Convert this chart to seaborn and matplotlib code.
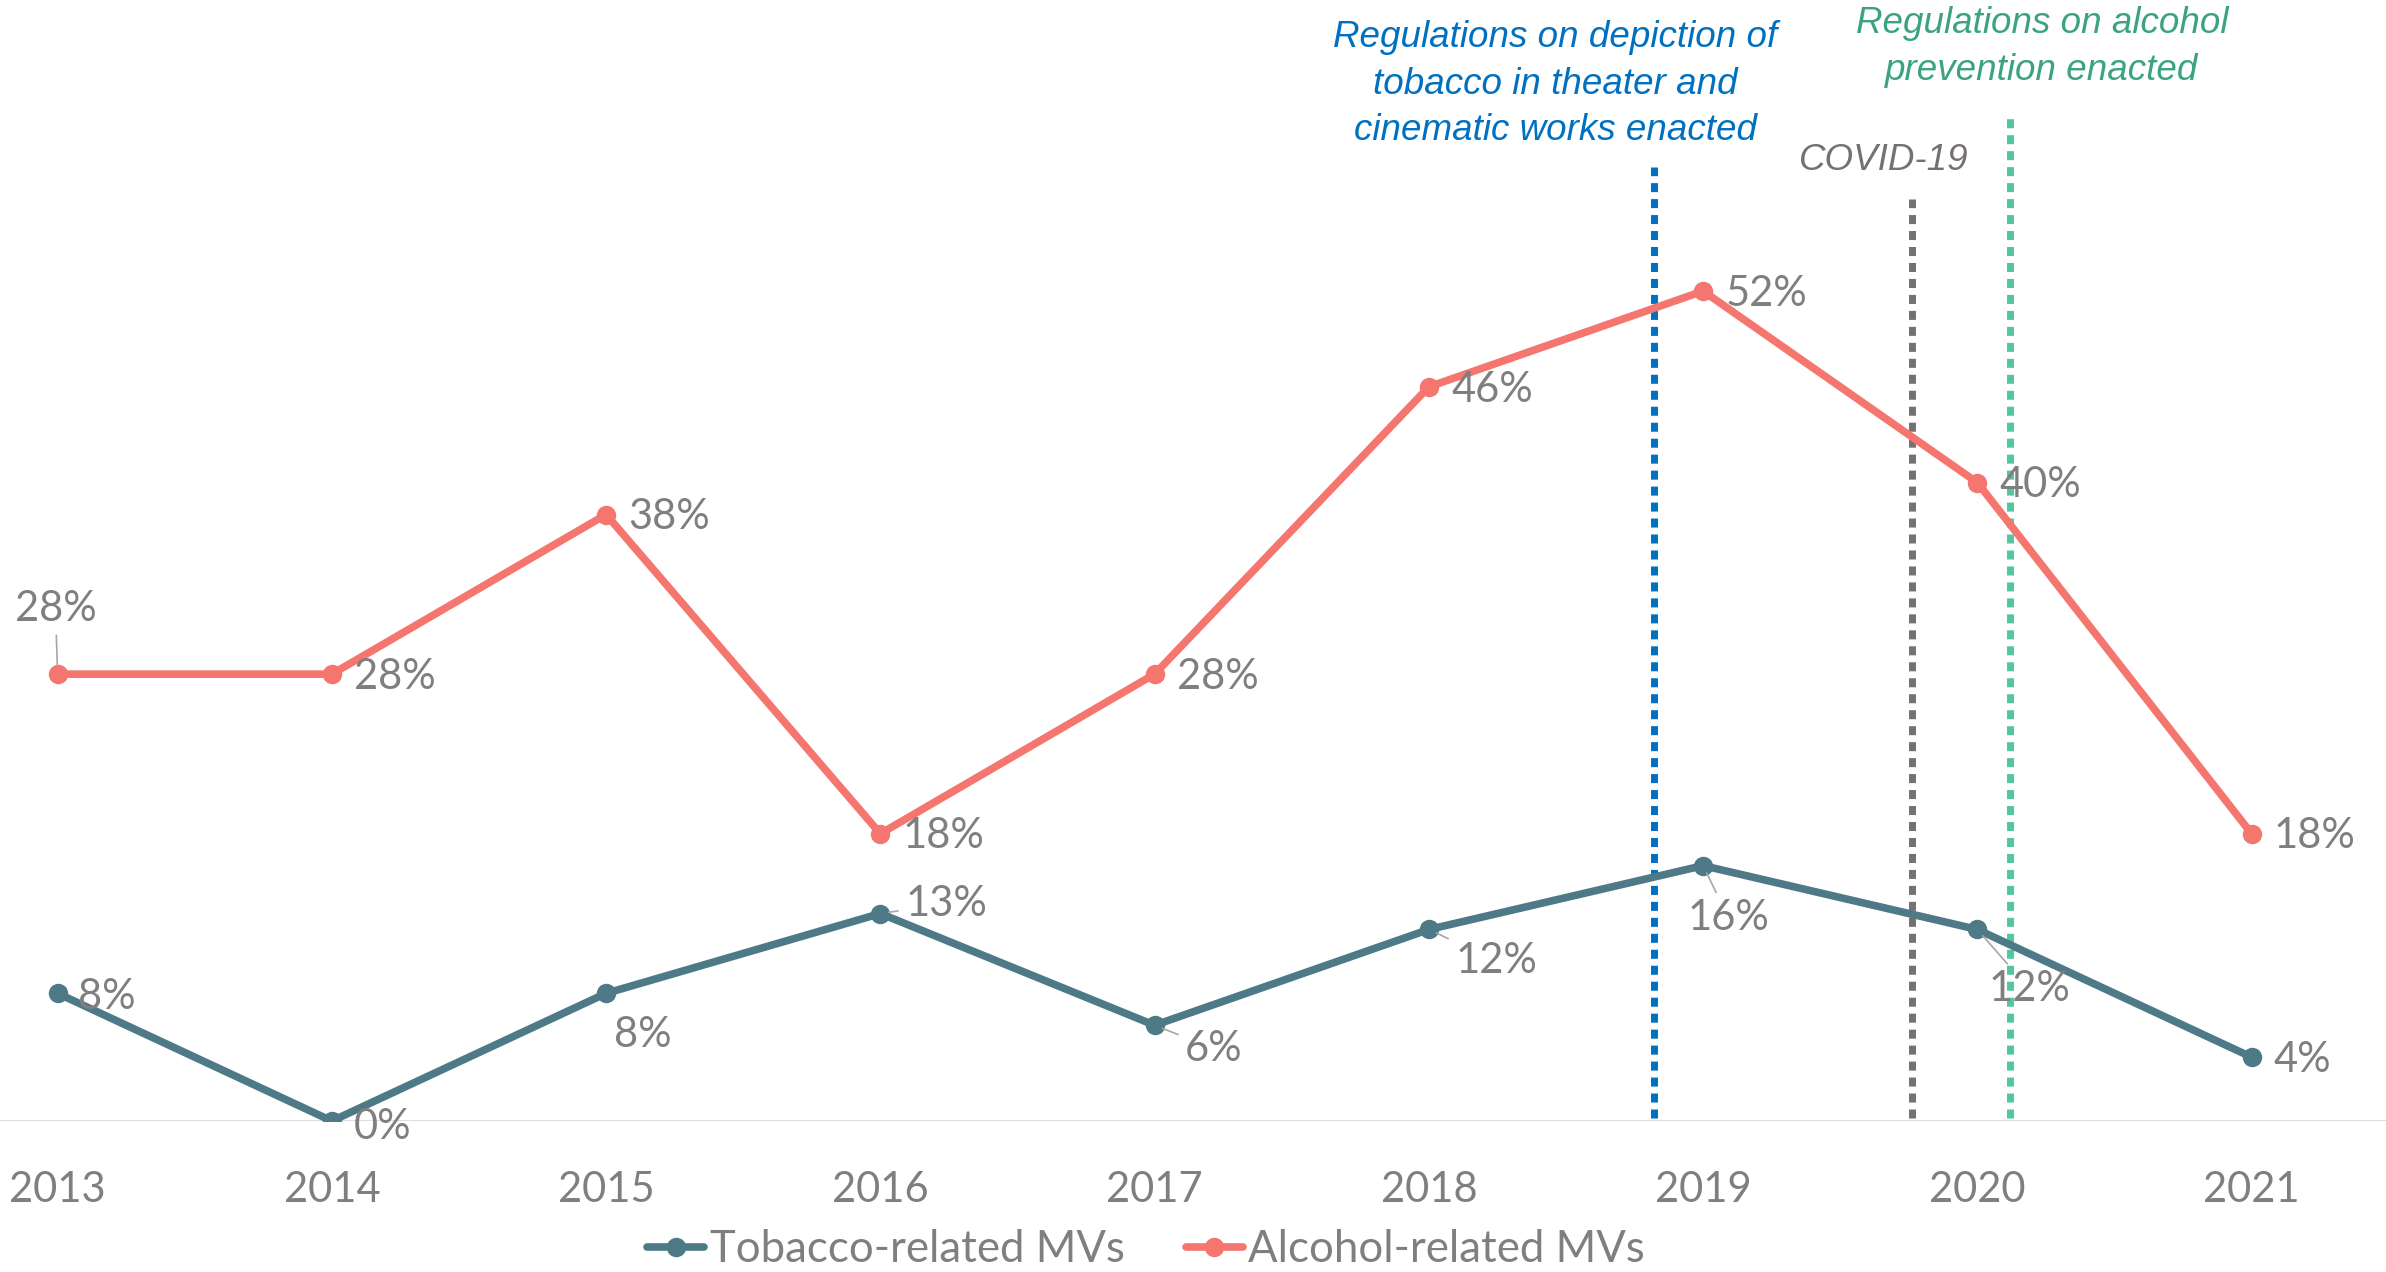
import pandas as pd
import matplotlib
matplotlib.use("Agg")
import matplotlib.pyplot as plt
import seaborn as sns

years = [2013, 2014, 2015, 2016, 2017, 2018, 2019, 2020, 2021]
tobacco = [8, 0, 8, 13, 6, 12, 16, 12, 4]
alcohol = [28, 28, 38, 18, 28, 46, 52, 40, 18]

events = ["Regulations on depiction of\ntobacco in theater and\ncinematic works enacted",
          "COVID-19",
          "Regulations on alcohol\nprevention enacted"]
event_x = [2018.82, 2019.76, 2020.12]

TOB_COLOR = "#4E7A87"
ALC_COLOR = "#F4766F"
LABEL_GRAY = "#7F7F7F"

# label offsets (points) relative to each point, left-aligned text
tob_off = [(15, -3), (16, -4), (6, -30), (18, 7), (22, -17),
           (19, -23), (-11, -38), (8, -43), (16, -2)]
alc_off = [(-31, 47), (16, -2), (16, -2), (16, -2), (16, -2),
           (16, -2), (16, -2), (16, -2), (16, -2)]
tob_leader = [False, False, False, True, True, True, True, True, False]
alc_leader = [True] + [False] * 8


def main():
    sns.set_theme(style="white")
    plt.rcParams["font.family"] = ["Lato", "DejaVu Sans"]

    df = pd.DataFrame({"Year": years, "Tobacco": tobacco, "Alcohol": alcohol})

    fig = plt.figure(figsize=(23.86, 12.72), dpi=100)
    ax = fig.add_axes([0, 1 - 1121 / 1272, 1, 1121 / 1272])

    sns.lineplot(data=df, x="Year", y="Tobacco", ax=ax, color=TOB_COLOR,
                 linewidth=5.5, marker="o", markersize=14, markeredgewidth=0,
                 label="Tobacco-related MVs")
    sns.lineplot(data=df, x="Year", y="Alcohol", ax=ax, color=ALC_COLOR,
                 linewidth=5.5, marker="o", markersize=14, markeredgewidth=0,
                 label="Alcohol-related MVs")

    for vals, offs, leads in [(tobacco, tob_off, tob_leader),
                              (alcohol, alc_off, alc_leader)]:
        for x, v, (dx, dy), lead in zip(years, vals, offs, leads):
            arrow = None
            if lead:
                arrow = dict(arrowstyle="-", color="#A6A6A6", lw=1.2,
                             shrinkA=3, shrinkB=6)
            ax.annotate(f"{v}%", (x, v), xytext=(dx, dy),
                        textcoords="offset points", ha="left", va="center",
                        fontsize=30, color=LABEL_GRAY, arrowprops=arrow)

    # event lines
    line_styles = [("#0070C0", 59.8), ("#767171", 57.8), ("#4FC8A0", 63.1)]
    for x, (c, top) in zip(event_x, line_styles):
        ax.plot([x, x], [-0.8, top], color=c, linewidth=5,
                linestyle=(0, (1.3, 1.0)), solid_capstyle="butt", zorder=1)

    fig.text(1555 / 2386, 1 - 84 / 1272, events[0], ha="center", va="center",
             fontsize=26.5, style="italic", color="#0070C0",
             family=["Liberation Sans"], linespacing=1.42)
    fig.text(1884 / 2386, 1 - 160 / 1272, events[1], ha="center", va="center",
             fontsize=26.5, style="italic", color="#767171",
             family=["Liberation Sans"])
    fig.text(2042 / 2386, 1 - 47 / 1272, events[2], ha="center", va="center",
             fontsize=26.5, style="italic", color="#3BA37E",
             family=["Liberation Sans"], linespacing=1.42)

    ax.set_xlim(2012.79, 2021.49)
    ax.set_ylim(0, 1121 / 15.96)
    ax.axhline(0, color="#D9D9D9", linewidth=2, zorder=0)
    ax.set_xticks(years)
    ax.set_xticklabels([str(y) for y in years])
    ax.tick_params(axis="x", labelsize=30, labelcolor=LABEL_GRAY, pad=36,
                   length=0)
    ax.set_yticks([])
    ax.set_xlabel("")
    ax.set_ylabel("")
    for s in ax.spines.values():
        s.set_visible(False)
    ax.set_facecolor("none")

    handles, labels = ax.get_legend_handles_labels()
    fig.legend(handles, labels, loc="center", ncol=2, frameon=False,
               bbox_to_anchor=(1146 / 2386, 1 - 1250 / 1272),
               fontsize=31.5, handlelength=1.3, handletextpad=0.12,
               columnspacing=1.4, labelcolor=LABEL_GRAY)
    ax.get_legend().remove()

    fig.savefig("out.png", dpi=100)
    plt.close(fig)


if __name__ == "__main__":
    main()
